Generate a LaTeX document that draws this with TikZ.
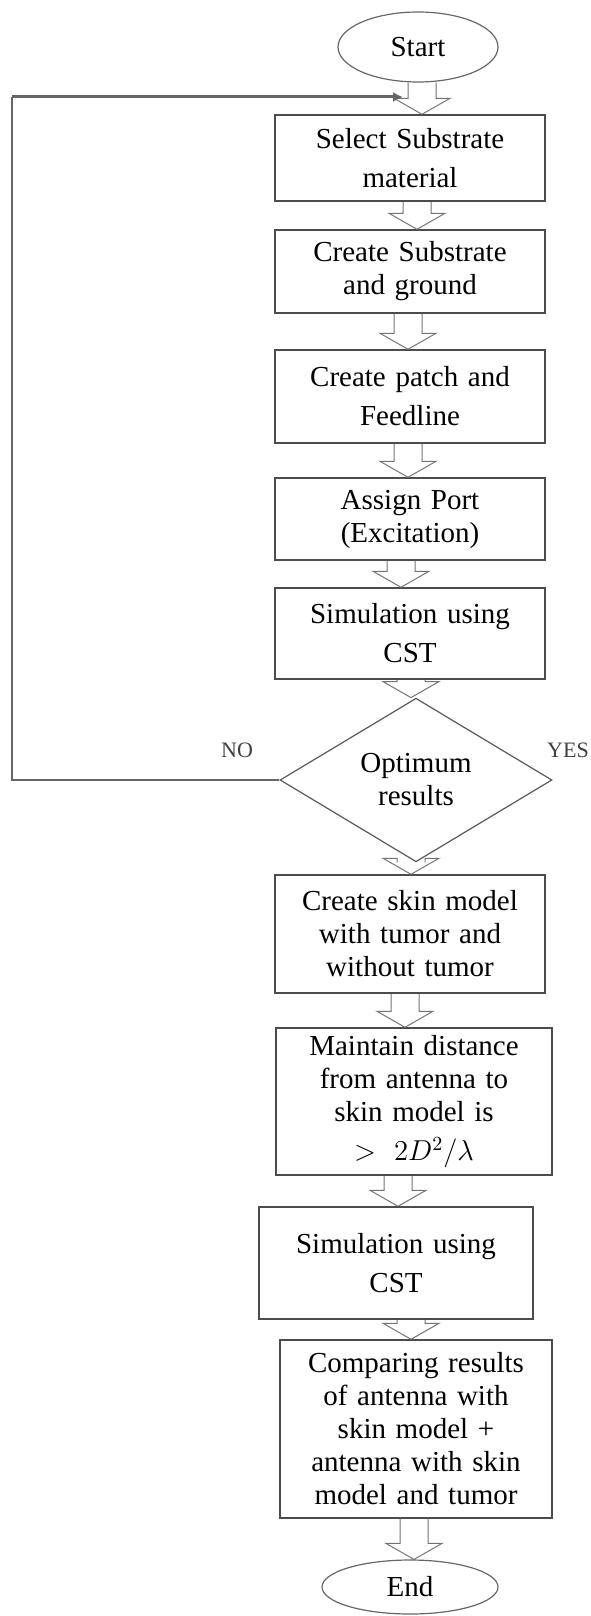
\documentclass[tikz,border=0pt]{standalone}
\usepackage{fontspec}
\setmainfont{Liberation Serif}
\usetikzlibrary{shapes.geometric,arrows.meta,calc}

\begin{document}
\begin{tikzpicture}[x=0.5pt,y=-0.5pt,
  box/.style={rectangle, draw=black!70, line width=0.7pt, minimum width=135pt,
              text width=132pt, align=center, inner sep=0pt,
              font=\fontsize{14.5}{16.5}\selectfont},
  term/.style={ellipse, draw=black!60, line width=0.6pt, inner sep=0pt,
               font=\fontsize{14.5}{16.5}\selectfont},
  decide/.style={diamond, draw=black!65, line width=0.6pt, inner sep=0pt,
                 minimum width=136pt, minimum height=68pt, align=center,
                 font=\fontsize{14.5}{16.5}\selectfont},
  fat/.style={draw=black!55, line width=0.5pt, line join=miter,
              to path={let \p1=(\tikztostart), \p2=(\tikztotarget) in
                (\x1-7pt,\y1) -- (\x1-7pt,\y2+8pt) -- (\x1-14pt,\y2+8pt)
                -- (\x1,\y2) -- (\x1+14pt,\y2+8pt) -- (\x1+7pt,\y2+8pt)
                -- (\x1+7pt,\y1)}},
  back/.style={draw=black!60, line width=1pt},
  lbl/.style={font=\fontsize{11}{13}\selectfont, text=black!75}
]
\useasboundingbox (0,0) rectangle (590,1616);
\node[term, minimum width=80pt, minimum height=35pt] (start) at (418,47) {Start};
\node[box, minimum height=43pt] (sel) at (410,158) {Select Substrate\\[3pt] material};
\node[box, minimum height=41.5pt] (sub) at (410,271.5) {Create Substrate\\ and ground};
\node[box, minimum height=46.5pt] (patch) at (410,396.5) {Create patch and\\[3pt] Feedline};
\node[box, minimum height=41pt] (port) at (410,519) {Assign Port\\ (Excitation)};
\node[box, minimum height=45.5pt] (sim) at (410,633.5) {Simulation using\\[3pt] CST};
\node[decide] (opt) at (416,780) {Optimum\\ results};
\node[box, minimum height=59pt] (skin) at (410,934) {Create skin model\\ with tumor and\\ without tumor};
\node[box, minimum width=138pt, minimum height=73.5pt] (dist) at (414,1101.5)
  {Maintain distance\\ from antenna to\\ skin model is\\[3pt] $>2D^2/\lambda$};
\node[box, minimum width=137pt, minimum height=56pt] (simb) at (396,1263) {Simulation using\\[3pt] CST};
\node[box, minimum width=136pt, minimum height=89pt] (comp) at (416,1429)
  {Comparing results\\ of antenna with\\ skin model +\\ antenna with skin\\ model and tumor};
\node[term, minimum width=88pt, minimum height=27pt] (end) at (410,1587) {End};
\node[lbl] (no) at (237,750) {NO};
\node[lbl] (yes) at (568,750) {YES};
% hollow arrows down the column
\draw[fat] ([xshift=2pt]start.south) to (sel.north);
\draw[fat] ([xshift=3.5pt]sel.south) to (sub.north);
\draw[fat] ([xshift=-1pt]sub.south) to (patch.north);
\draw[fat] ([xshift=-1pt]patch.south) to (port.north);
\draw[fat] ([xshift=-4.5pt]port.south) to (sim.north);
\draw[fat] ([xshift=0.5pt]sim.south) to (opt.north);
\draw[fat] ([xshift=-2.5pt]opt.south) to (skin.north);
\draw[fat] ([xshift=-2.5pt]skin.south) to (dist.north);
\draw[fat] ([xshift=-8pt]dist.south) to (simb.north);
\draw[fat] ([xshift=7.5pt]simb.south) to (comp.north);
\draw[fat] ([xshift=-1pt]comp.south) to (end.north);
% NO branch back to the top
\coordinate (turn) at (12,97);
\coordinate (join) at (403,97);
\draw[back] (opt.west) -| (turn);
\draw[back, line width=1.5pt, -{Latex[length=5pt,width=5pt]}] (turn) -- (join);
\end{tikzpicture}
\end{document}
